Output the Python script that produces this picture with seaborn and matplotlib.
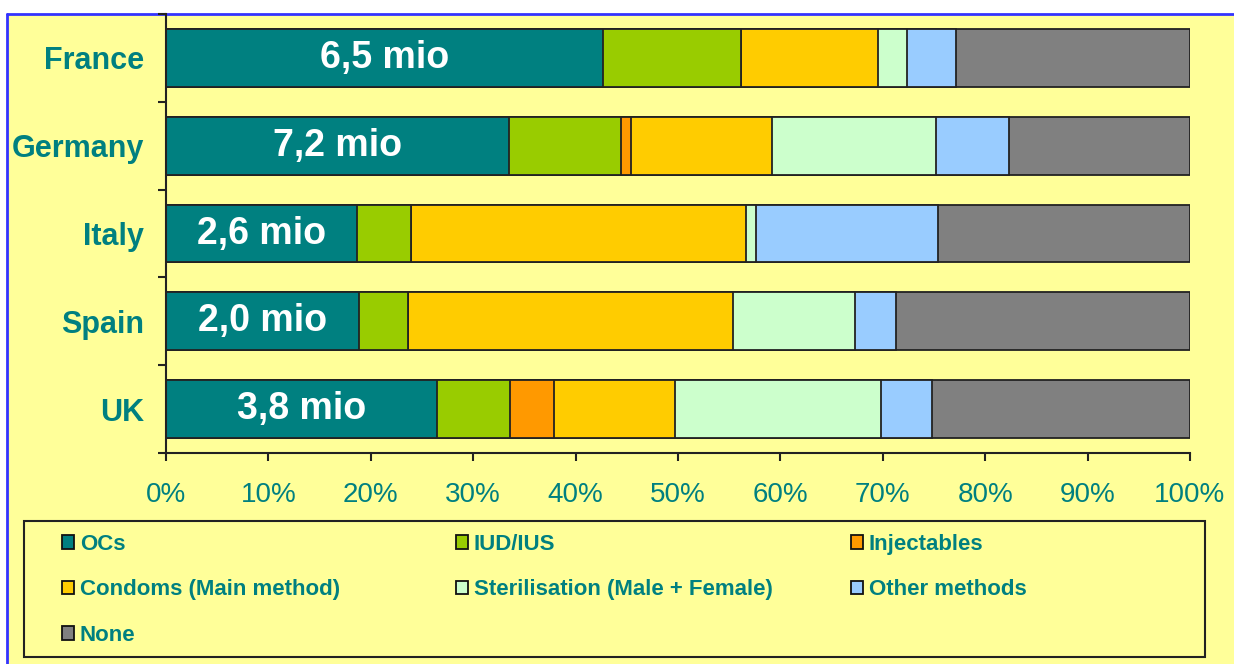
import numpy as np
import pandas as pd
import seaborn as sns
import matplotlib.pyplot as plt
from matplotlib.patches import Patch, Rectangle
from matplotlib.lines import Line2D
from matplotlib.ticker import FixedLocator, FuncFormatter

# data (% of women per method)
countries = ["France", "Germany", "Italy", "Spain", "UK"]
mio_labels = ["6,5 mio", "7,2 mio", "2,6 mio", "2,0 mio", "3,8 mio"]
methods = ["OCs", "IUD/IUS", "Injectables", "Condoms (Main method)",
           "Sterilisation (Male + Female)", "Other methods", "None"]
ocs = [42.7, 33.5, 18.7, 18.8, 26.5]
iud = [13.5, 10.9, 5.2, 4.8, 7.1]
injectables = [0.0, 1.0, 0.0, 0.0, 4.3]
condoms = [13.3, 13.8, 32.7, 31.8, 11.8]
sterilisation = [2.9, 16.0, 1.0, 11.9, 20.1]
other = [4.7, 7.1, 17.8, 4.0, 5.0]
none = [22.9, 17.7, 24.6, 28.7, 25.2]
colors = ["#008080", "#99CC00", "#FF9900", "#FFCC00", "#CCFFCC", "#99CCFF", "#808080"]

teal = "#008080"
bg = "#FFFF99"

df = pd.DataFrame(dict(zip(methods, [ocs, iud, injectables, condoms, sterilisation, other, none])))
cum = df[methods].cumsum(axis=1)
cum["country"] = countries

sns.set_style("ticks")
plt.rcParams["font.family"] = ["Liberation Sans", "DejaVu Sans"]

fig = plt.figure(figsize=(12.34, 6.64), dpi=100)
fig.patch.set_facecolor("white")

# yellow chart area with blue border (top + left)
fig.patches.append(Rectangle((7 / 1234, 0), 1, 1 - 14 / 664, transform=fig.transFigure,
                             facecolor=bg, edgecolor="none", zorder=-10))
fig.lines.append(Line2D([7 / 1234, 1], [1 - 14 / 664] * 2, transform=fig.transFigure,
                        color="#3333FF", lw=2, zorder=-5))
fig.lines.append(Line2D([7 / 1234] * 2, [0, 1 - 14 / 664], transform=fig.transFigure,
                        color="#3333FF", lw=2, zorder=-5))

ax = fig.add_axes([166 / 1234, 1 - 453 / 664, (1190 - 166) / 1234, (453 - 14) / 664])
ax.set_facecolor("none")

# stacked bars: draw cumulative totals from the right-most segment back to the first
for m, c in reversed(list(zip(methods, colors))):
    sns.barplot(data=cum, x=m, y="country", orient="h", color=c, saturation=1,
                edgecolor="#222222", linewidth=1.3, width=0.66, errorbar=None, ax=ax)

for i, (lab, v) in enumerate(zip(mio_labels, ocs)):
    ax.text(v / 2, i, lab, ha="center", va="center", color="white",
            fontsize=27, fontweight="bold")

ax.set_xlim(0, 100)
ax.set_ylim(4.5, -0.5)
ax.set_xlabel("")
ax.set_ylabel("")
ax.xaxis.set_major_locator(FixedLocator(np.arange(0, 101, 10)))
ax.xaxis.set_major_formatter(FuncFormatter(lambda v, p: f"{v:.0f}%"))
ax.tick_params(axis="x", length=6, width=1.5, color="#222222", pad=15,
               labelsize=20, labelcolor=teal, top=False)
ax.set_yticks(range(len(countries)))
ax.set_yticklabels(countries, fontsize=22, fontweight="bold", color=teal)
ax.tick_params(axis="y", which="major", length=0, pad=16, right=False)
ax.yaxis.set_minor_locator(FixedLocator(np.arange(-0.5, 5, 1)))
ax.tick_params(axis="y", which="minor", length=6, width=1.5, color="#222222", right=False)
ax.tick_params(axis="x", which="minor", top=False, bottom=False)
for s in ["top", "right"]:
    ax.spines[s].set_visible(False)
for s in ["left", "bottom"]:
    ax.spines[s].set_color("#222222")
    ax.spines[s].set_linewidth(1.5)

# legend box, three columns laid out like the original
fig.patches.append(Rectangle((24 / 1234, 1 - 657 / 664), (1205 - 24) / 1234, (657 - 521) / 664,
                             transform=fig.transFigure, facecolor="none",
                             edgecolor="#222222", lw=1.5, zorder=2))
handles = [Patch(facecolor=c, edgecolor="#111111", lw=1.3) for c in colors]
columns = [[0, 3, 6], [1, 4], [2, 5]]
col_x = [62, 456, 851]
for idx, x in zip(columns, col_x):
    leg = fig.legend([handles[i] for i in idx], [methods[i] for i in idx],
                     loc="upper left", bbox_to_anchor=(x / 1234, 1 - 534 / 664),
                     frameon=False, borderpad=0, borderaxespad=0,
                     handlelength=0.55, handleheight=0.55, handletextpad=0.25,
                     labelspacing=1.1, prop={"size": 16, "weight": "bold"})
    for t in leg.get_texts():
        t.set_color(teal)

fig.savefig("out.png", dpi=100, facecolor=fig.get_facecolor())
